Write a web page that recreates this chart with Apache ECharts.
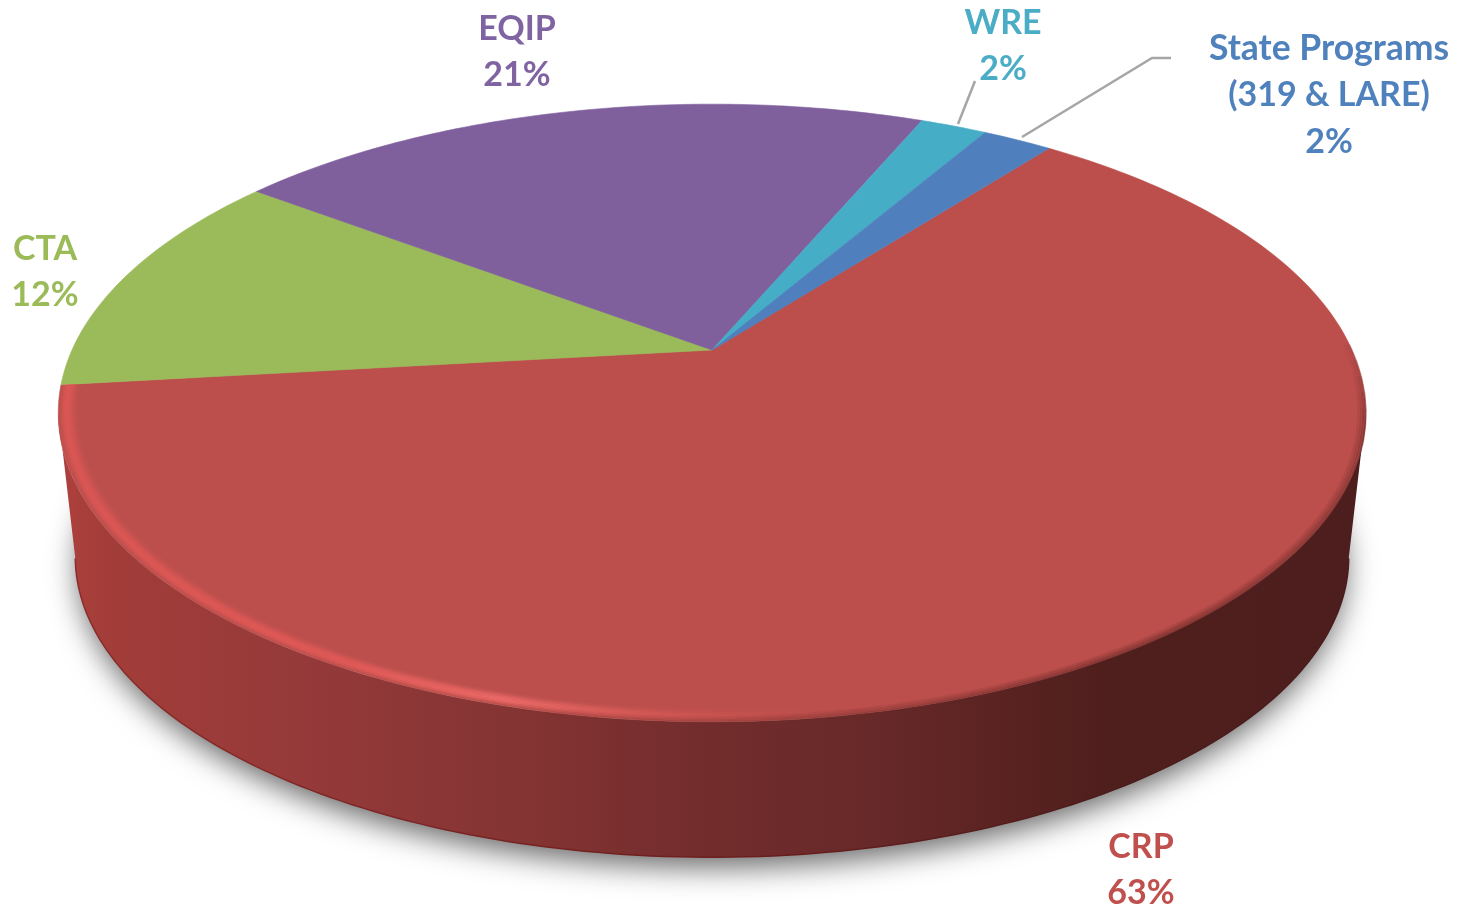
<!DOCTYPE html>
<html lang="en">

<head>
  <meta charset="UTF-8">
  <title>Program shares</title>
  <script src="https://cdn.jsdelivr.net/npm/echarts@6/dist/echarts.min.js"></script>
  <style>
    html, body { margin: 0; padding: 0; background: #fff; }
    #main { width: 1461px; height: 912px; }
  </style>
</head>

<body>
  <div id="main"></div>
  <script>
    // data, clockwise from the CRP / State Programs edge
    var categories = ['CRP', 'CTA', 'EQIP', 'WRE', 'State Programs'];
    var shares = [62.7, 12.1, 21.1, 2.0, 2.1];
    var sliceColors = ['#bc4f4c', '#9bba59', '#7f609d', '#46adc7', '#4f7fbd'];
    var labelColors = ['#c0504d', '#9bbb59', '#8064a2', '#4bacc6', '#4f81bd'];
    var labelLines = [
      ['CRP', '63%'],
      ['CTA', '12%'],
      ['EQIP', '21%'],
      ['WRE', '2%'],
      ['State Programs', '(319 & LARE)', '2%']
    ];

    // tilted disc: a circle seen in perspective
    var cx = 712, cyTop = 350, cyBottom = 497;
    var radX = 640, radY = 296, persp = 0.204, bottomScale = 0.975;
    var startAngle = 37.7;
    var labelPos = [[1141, 847], [45, 249], [517, 29], [1003, 23], [1329, 49]];
    var linePitch = 46.5;
    var leaders = [
      [[958, 124], [975, 81]],
      [[1022, 137], [1152, 58], [1171, 58]]
    ];

    var total = shares.reduce(function (a, b) { return a + b; }, 0);

    function rim(deg, r, cy) {
      var t = deg * Math.PI / 180;
      var u = r * Math.sin(t), v = -r * Math.cos(t);
      var w = 1 - persp * v;
      return [cx + radX * u / w, cy + radY * v / w];
    }

    function arc(from, to, r, cy) {
      var pts = [];
      var n = Math.ceil(Math.abs(to - from));
      for (var i = 0; i <= n; i++) {
        pts.push(rim(from + (to - from) * i / n, r, cy));
      }
      return pts;
    }

    // widest point of the ellipse sits a little in front of the centre
    var sideAngle = 90 + Math.asin(persp) * 180 / Math.PI;

    function hgrad(stops) {
      return { type: 'linear', x: 60, y: 0, x2: 1366, y2: 0, global: true, colorStops: stops };
    }

    function wallItem() {
      var upper = arc(sideAngle, 360 - sideAngle, 1, cyTop);
      var lower = arc(360 - sideAngle, sideAngle, bottomScale, cyBottom);
      var bottomEdge = arc(360 - sideAngle, sideAngle, bottomScale, cyBottom);
      return {
        type: 'group',
        children: [
          {
            type: 'polygon',
            shape: { points: arc(0, 360, bottomScale * 0.995, cyBottom) },
            style: { fill: '#bbb', shadowBlur: 30, shadowColor: 'rgba(0,0,0,0.6)', shadowOffsetY: 12 }
          },
          {
            type: 'polygon',
            shape: { points: upper.concat(lower) },
            style: {
              fill: hgrad([
                { offset: 0, color: '#ad403c' },
                { offset: 0.04, color: '#a23d39' },
                { offset: 0.2, color: '#94393a' },
                { offset: 0.35, color: '#843433' },
                { offset: 0.5, color: '#722c2c' },
                { offset: 0.62, color: '#682929' },
                { offset: 0.72, color: '#5a2322' },
                { offset: 0.8, color: '#4f1f1d' },
                { offset: 1, color: '#4c1e1d' }
              ])
            }
          },
          {
            type: 'polyline',
            shape: { points: bottomEdge },
            style: {
              fill: null,
              lineWidth: 1.5,
              stroke: hgrad([
                { offset: 0, color: '#8c2c2a' },
                { offset: 0.5, color: '#6e1e1e' },
                { offset: 0.8, color: '#4a1c1b' },
                { offset: 1, color: '#4a1c1b' }
              ])
            }
          }
        ]
      };
    }

    function sliceItem(params, api) {
      var i = params.dataIndex;
      var before = 0;
      for (var k = 0; k < i; k++) before += shares[k];
      var from = startAngle + before / total * 360;
      var to = from + api.value(0) / total * 360;
      var pts = [[cx, cyTop]].concat(arc(from, to, 1, cyTop));
      return {
        type: 'polygon',
        shape: { points: pts },
        style: { fill: sliceColors[i], stroke: sliceColors[i], lineWidth: 0.6 }
      };
    }

    // rounded top edge of the big slice: a light band on the left, dark on the right
    function bevelItem() {
      var kids = [];
      var from = startAngle + shares[0] / total * 360;
      var n = 12;
      for (var i = 0; i < n; i++) {
        var d = i / (n - 1);
        var r = 1 - 0.03 * d;
        var peak = d < 0.4 ? d / 0.4 : (1 - d) / 0.6;
        var a = peak * peak * (3 - 2 * peak) * 0.75;
        kids.push({
          type: 'polyline',
          shape: { points: arc(from, 100, r, cyTop) },
          style: {
            fill: null,
            lineWidth: 2.2,
            stroke: hgrad([
              { offset: 0, color: 'rgba(226,88,86,' + a + ')' },
              { offset: 0.22, color: 'rgba(228,90,88,' + a + ')' },
              { offset: 0.34, color: 'rgba(240,108,106,' + a + ')' },
              { offset: 0.46, color: 'rgba(218,90,86,' + a * 0.7 + ')' },
              { offset: 0.58, color: 'rgba(205,80,76,0)' },
              { offset: 1, color: 'rgba(205,80,76,0)' }
            ])
          }
        });
      }
      // dark edge, fading in from the right side and out towards the front
      var m = 4, step = 3;
      for (var j = 0; j < m; j++) {
        var dark = (1 - j / m) * 0.55;
        for (var t = 86; t < 196; t += step) {
          var fade = Math.min(1, (t - 86) / 16, (196 - t) / 50);
          kids.push({
            type: 'polyline',
            shape: { points: [rim(t, 1 - 0.0035 * j, cyTop), rim(t + step, 1 - 0.0035 * j, cyTop)] },
            style: { fill: null, lineWidth: 2, stroke: 'rgba(90,34,32,' + dark * fade + ')' }
          });
        }
      }
      return { type: 'group', children: kids };
    }

    function labelItem(params) {
      var i = params.dataIndex;
      var kids = labelLines[i].map(function (line, k) {
        return {
          type: 'text',
          x: labelPos[i][0],
          y: labelPos[i][1] + k * linePitch,
          style: {
            text: line,
            fill: labelColors[i],
            font: 'bold ' + (line === 'State Programs' ? 35.5 : 34) + 'px Lato, "Open Sans", sans-serif',
            textAlign: 'center',
            textVerticalAlign: 'middle'
          }
        };
      });
      return { type: 'group', children: kids };
    }

    function leaderItem(params) {
      return {
        type: 'polyline',
        shape: { points: leaders[params.dataIndex] },
        style: { fill: null, stroke: '#a6a6a6', lineWidth: 2.5 }
      };
    }

    var myChart = echarts.init(document.getElementById('main'));
    myChart.setOption({
      animation: false,
      backgroundColor: '#fff',
      series: [
        { type: 'custom', coordinateSystem: 'none', silent: true, data: [0], renderItem: wallItem, z: 1 },
        {
          type: 'custom',
          coordinateSystem: 'none',
          silent: true,
          name: 'share',
          data: shares.map(function (v, i) { return { name: categories[i], value: [v] }; }),
          renderItem: sliceItem,
          z: 2
        },
        { type: 'custom', coordinateSystem: 'none', silent: true, data: [0], renderItem: bevelItem, z: 3 },
        { type: 'custom', coordinateSystem: 'none', silent: true, data: leaders.map(function (l, i) { return i; }), renderItem: leaderItem, z: 4 },
        { type: 'custom', coordinateSystem: 'none', silent: true, data: categories, renderItem: labelItem, z: 5 }
      ]
    });
  </script>
</body>

</html>
